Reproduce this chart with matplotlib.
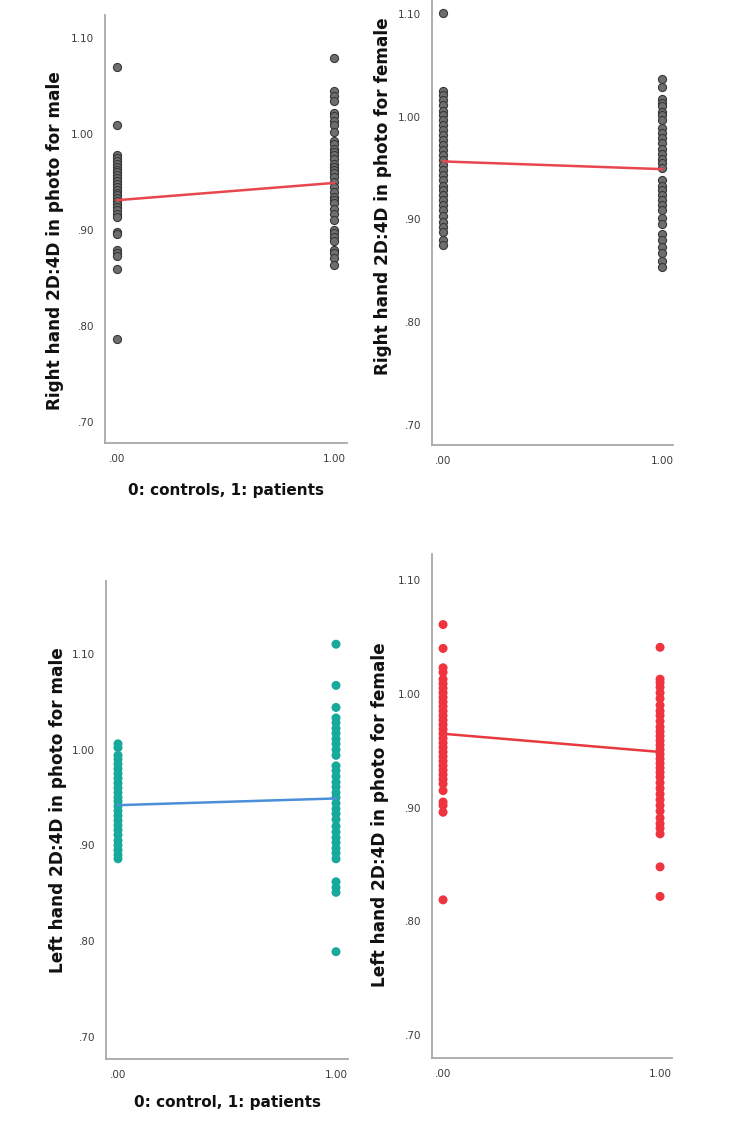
import matplotlib
matplotlib.use("Agg")
import matplotlib.pyplot as plt

# ---- data ----------------------------------------------------------------
# right hand, male
rm_ctrl = [1.070, 1.009, 0.978, 0.975, 0.972, 0.969, 0.966, 0.963, 0.960,
           0.957, 0.954, 0.951, 0.948, 0.945, 0.942, 0.939, 0.936, 0.933,
           0.930, 0.927, 0.924, 0.921, 0.917, 0.914, 0.898, 0.896, 0.879,
           0.876, 0.873, 0.859, 0.786]
rm_pat = [1.079, 1.045, 1.040, 1.034, 1.022, 1.019, 1.014, 1.009, 1.002,
          0.993, 0.990, 0.984, 0.981, 0.978, 0.974, 0.969, 0.966, 0.962,
          0.959, 0.955, 0.950, 0.945, 0.940, 0.934, 0.931, 0.928, 0.922,
          0.917, 0.910, 0.900, 0.897, 0.893, 0.888, 0.879, 0.876, 0.871,
          0.864]
rm_fit = [0.931, 0.949]

# right hand, female
rf_ctrl = [1.101, 1.025, 1.021, 1.016, 1.011, 1.006, 1.002, 0.997, 0.992,
           0.987, 0.982, 0.977, 0.972, 0.968, 0.963, 0.958, 0.953, 0.948,
           0.943, 0.938, 0.933, 0.929, 0.924, 0.919, 0.914, 0.909, 0.903,
           0.898, 0.893, 0.888, 0.880, 0.875]
rf_pat = [1.037, 1.029, 1.017, 1.013, 1.010, 1.005, 1.002, 0.997, 0.989,
          0.984, 0.979, 0.974, 0.969, 0.964, 0.959, 0.955, 0.950, 0.938,
          0.933, 0.929, 0.924, 0.919, 0.914, 0.909, 0.901, 0.896, 0.886,
          0.880, 0.873, 0.867, 0.860, 0.854]
rf_fit = [0.9565, 0.949]

# left hand, male
lm_ctrl = [1.006, 1.002, 0.994, 0.990, 0.985, 0.980, 0.975, 0.970, 0.965,
           0.960, 0.955, 0.950, 0.946, 0.941, 0.936, 0.931, 0.926, 0.921,
           0.916, 0.911, 0.905, 0.900, 0.895, 0.890, 0.886]
lm_pat = [1.110, 1.067, 1.044, 1.033, 1.028, 1.022, 1.017, 1.011, 1.006,
          1.000, 0.994, 0.983, 0.978, 0.972, 0.966, 0.961, 0.955, 0.950,
          0.944, 0.938, 0.933, 0.927, 0.920, 0.914, 0.908, 0.903, 0.897,
          0.892, 0.886, 0.862, 0.856, 0.851, 0.789]
lm_fit = [0.942, 0.949]

# left hand, female
lf_ctrl = [1.061, 1.040, 1.023, 1.019, 1.013, 1.009, 1.005, 1.001, 0.997,
           0.993, 0.989, 0.985, 0.981, 0.977, 0.973, 0.969, 0.965, 0.961,
           0.957, 0.953, 0.949, 0.945, 0.941, 0.937, 0.933, 0.929, 0.925,
           0.921, 0.915, 0.905, 0.902, 0.896, 0.819]
lf_pat = [1.041, 1.013, 1.010, 1.006, 1.001, 0.996, 0.990, 0.985, 0.981,
          0.976, 0.971, 0.967, 0.963, 0.959, 0.955, 0.951, 0.947, 0.943,
          0.939, 0.935, 0.931, 0.927, 0.922, 0.917, 0.912, 0.907, 0.902,
          0.897, 0.891, 0.886, 0.882, 0.877, 0.848, 0.822]
lf_fit = [0.965, 0.949]

groups = [0.0, 1.0]
yticks = [0.70, 0.80, 0.90, 1.00, 1.10]
ytick_labels = [".70", ".80", ".90", "1.00", "1.10"]
xtick_labels = [".00", "1.00"]

W, H = 750, 1130
SPINE = "#a8a8a8"
TICK = "#3c3c3c"
INK = "#111111"

plt.rcParams.update({"font.family": "DejaVu Sans"})
fig = plt.figure(figsize=(W / 100, H / 100), dpi=100)


def panel(px, ylim, xlim, ctrl, pat, fit, mfc, mec, line_c, ylabel,
          ylab_xy, xlabel=None, xlab_y=None, ms=34):
    l, r, t, b = px
    ax = fig.add_axes([l / W, (H - b) / H, (r - l) / W, (b - t) / H])
    lw = 0.8 if mec != "none" else 0
    ax.scatter([groups[0]] * len(ctrl), ctrl, s=ms, c=mfc, edgecolors=mec,
               linewidths=lw, zorder=2)
    ax.scatter([groups[1]] * len(pat), pat, s=ms, c=mfc, edgecolors=mec,
               linewidths=lw, zorder=2)
    ax.plot(groups, fit, color=line_c, lw=1.8, zorder=3)
    ax.set_ylim(*ylim)
    ax.set_xlim(*xlim)
    ax.set_yticks(yticks)
    ax.set_yticklabels(ytick_labels)
    ax.set_xticks(groups)
    ax.set_xticklabels(xtick_labels)
    ax.tick_params(length=0, labelsize=7.5, labelcolor=TICK, pad=8)
    for s in ("top", "right"):
        ax.spines[s].set_visible(False)
    for s in ("left", "bottom"):
        ax.spines[s].set_color(SPINE)
        ax.spines[s].set_linewidth(1.3)
    ax.set_ylabel(ylabel, fontsize=12.2, fontweight="bold", color=INK)
    ax.yaxis.set_label_coords(*ylab_xy)
    ax.yaxis.label.set_va("center")
    if xlabel:
        ax.set_xlabel(xlabel, fontsize=11, fontweight="bold", color=INK)
        ax.xaxis.set_label_coords(0.5, xlab_y)
        ax.xaxis.label.set_va("center")
    return ax


GREY_F, GREY_E = "#6e6e6e", "#383838"
panel((105, 347, 15, 443), (0.678, 1.124), (-0.055, 1.060), rm_ctrl, rm_pat,
      rm_fit, GREY_F, GREY_E, "#e8474f",
      "Right hand 2D:4D in photo for male", (-0.207, 0.472),
      "0: controls, 1: patients", -0.11)
panel((432, 673, 0, 445), (0.6805, 1.1136), (-0.050, 1.050), rf_ctrl, rf_pat,
      rf_fit, GREY_F, GREY_E, "#e8474f",
      "Right hand 2D:4D in photo for female", (-0.203, 0.56))
panel((106, 348, 581, 1059), (0.677, 1.176), (-0.055, 1.055), lm_ctrl, lm_pat,
      lm_fit, "#17a99b", "none", "#4a8fd8",
      "Left hand 2D:4D in photo for male", (-0.198, 0.521),
      "0: control, 1: patients", -0.092, ms=42)
panel((432, 672, 554, 1058), (0.680, 1.123), (-0.051, 1.055), lf_ctrl, lf_pat,
      lf_fit, "#f0343f", "none", "#e8393f",
      "Left hand 2D:4D in photo for female", (-0.217, 0.482), ms=42)

fig.savefig("out.png", dpi=100)
